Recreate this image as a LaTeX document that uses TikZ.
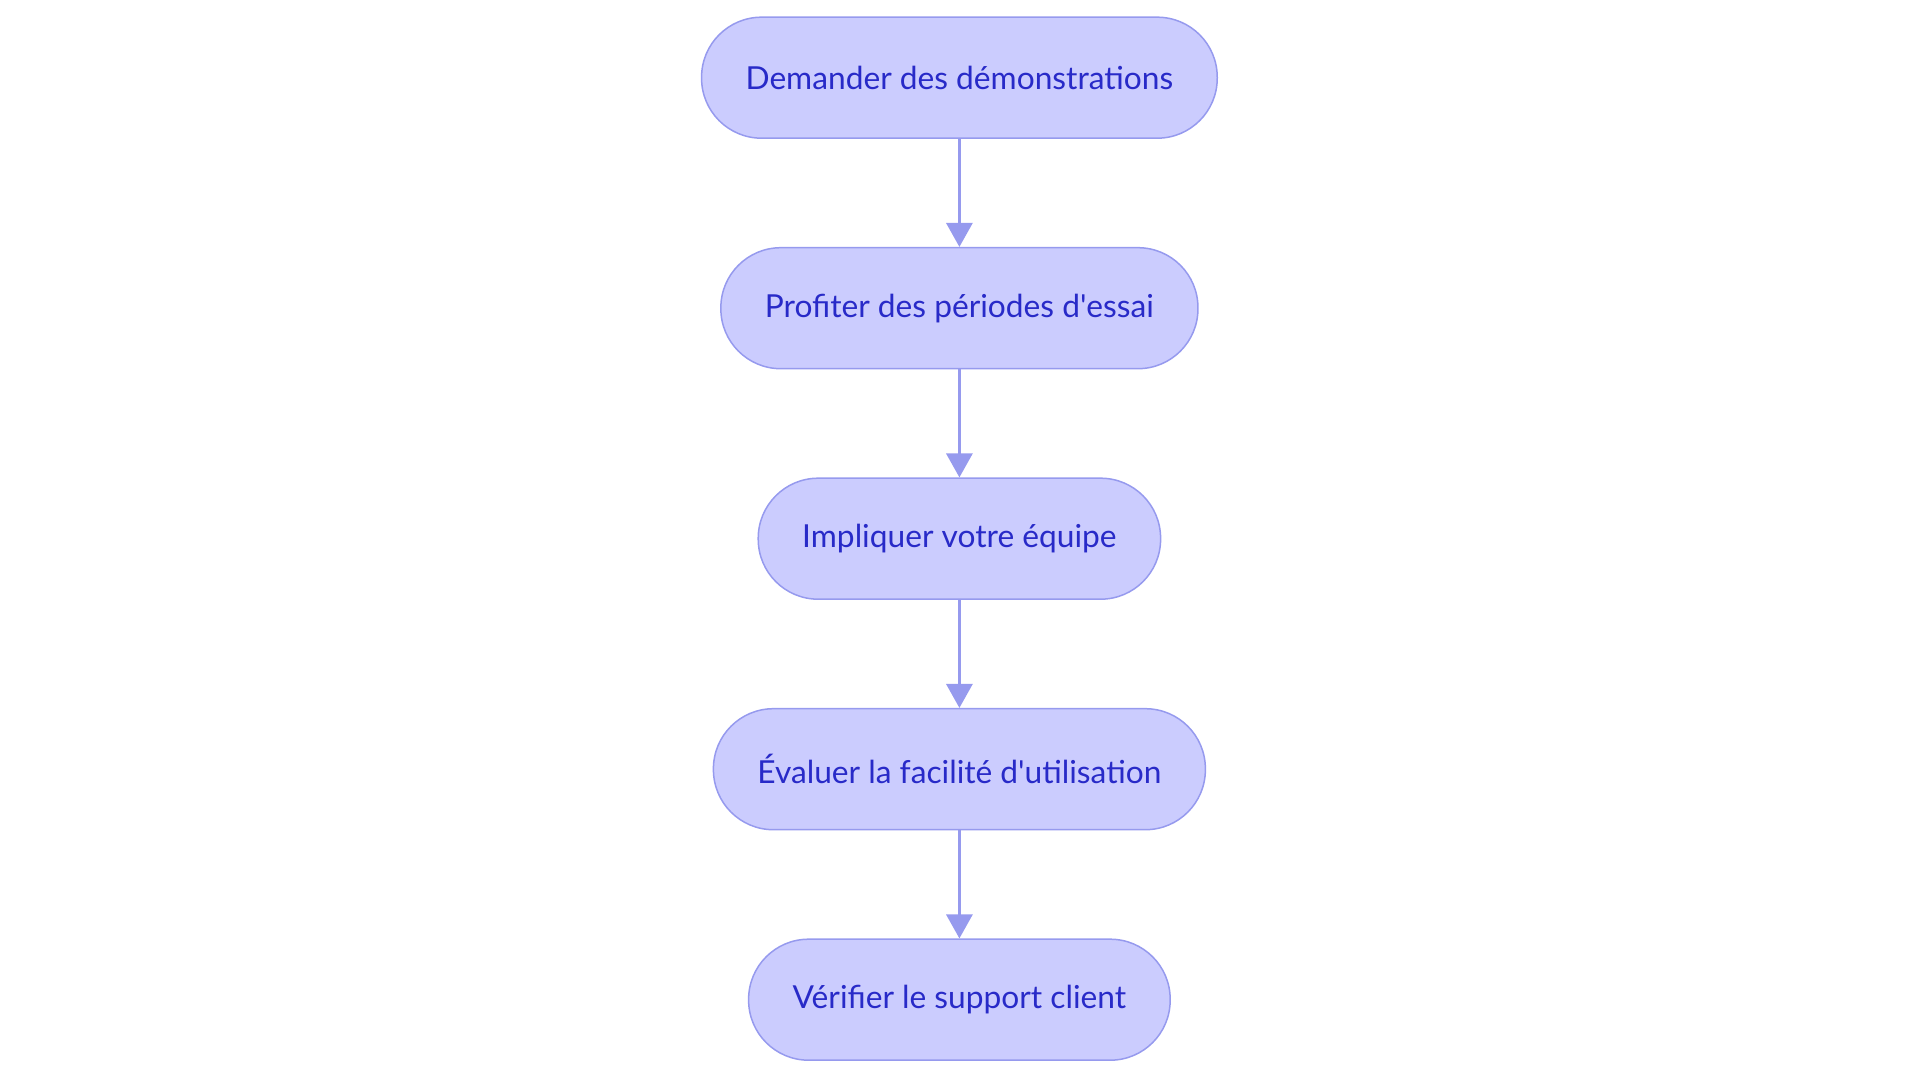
\documentclass[tikz,border=0pt]{standalone}
\usepackage{fontspec}
\setmainfont{Lato}
\usetikzlibrary{positioning,arrows.meta}
\definecolor{stepfill}{RGB}{203,204,254}
\definecolor{stepline}{RGB}{150,154,238}
\definecolor{steptext}{RGB}{40,42,200}
\begin{document}
\begin{tikzpicture}[x=1pt,y=1pt,
    stepbox/.style = {draw=stepline, line width=1.5pt, fill=stepfill, text=steptext,
      rounded corners=60pt, minimum height=121pt, inner xsep=44pt,
      font=\fontsize{31.7}{36}\selectfont},
    link/.style = {draw=stepline, line width=3pt, -{Triangle[width=26pt,length=24pt]}},
    node distance=108pt
]
        \useasboundingbox (0,0) rectangle (1920,-1083);
        \node[stepbox] (demo) at (959.4,-77.7) {Demander des démonstrations};
        \node[stepbox, below=of demo] (essai) {Profiter des périodes d\textquotesingle essai};
        \node[stepbox, below=of essai] (equipe) {Impliquer votre équipe};
        \node[stepbox, below=of equipe] (facilite) {Évaluer la facilité d\textquotesingle utilisation};
        \node[stepbox, below=of facilite] (support) {Vérifier le support client};
        \draw[link] (demo) -- (essai);
        \draw[link] (essai) -- (equipe);
        \draw[link] (equipe) -- (facilite);
        \draw[link] (facilite) -- (support);
\end{tikzpicture}
\end{document}
